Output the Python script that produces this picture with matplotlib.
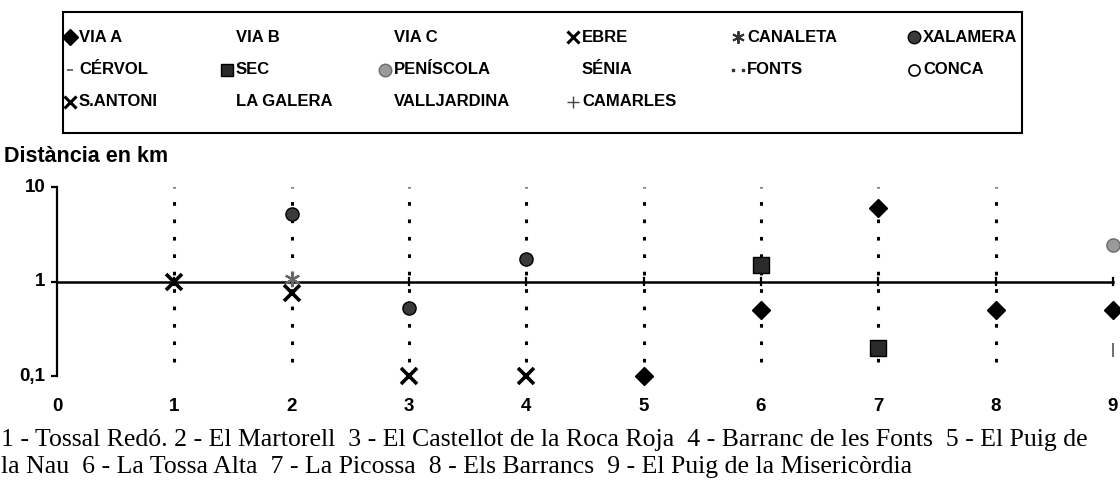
import matplotlib
matplotlib.use("Agg")
import matplotlib.pyplot as plt
from matplotlib.lines import Line2D
import matplotlib.transforms as mtransforms

# ---------------- data ----------------
sites = [0, 1, 2, 3, 4, 5, 6, 7, 8, 9]
x_tick_labels = ["0", "1", "2", "3", "4", "5", "6", "7", "8", "9"]
y_ticks = [0.1, 1, 10]
y_tick_labels = ["0,1", "1", "10"]

via_a_x = [5, 6, 7, 8, 9]
via_a_y = [0.1, 0.5, 6.0, 0.5, 0.5]
ebre_x = [1, 2]
ebre_y = [1.0, 0.76]
santoni_x = [3, 4]
santoni_y = [0.1, 0.1]
canaleta_x = [2]
canaleta_y = [1.05]
xalamera_x = [2, 3, 4]
xalamera_y = [5.2, 0.52, 1.75]
peniscola_x = [9]
peniscola_y = [2.45]
sec_x = [6, 7]
sec_y = [1.5, 0.2]
camarles_x = [9]
camarles_y = [0.19]

fonts_x = [1, 2, 3, 4, 5, 6, 7, 8]
fonts_low = [0.14, 0.14, 0.14, 0.14, 0.14, 0.14, 0.14, 0.14]
fonts_high = [10, 10, 10, 10, 10, 10, 10, 10]

legend_labels = [
    ["VIA A", "VIA B", "VIA C", "EBRE", "CANALETA", "XALAMERA"],
    ["CÉRVOL", "SEC", "PENÍSCOLA", "SÉNIA", "FONTS", "CONCA"],
    ["S.ANTONI", "LA GALERA", "VALLJARDINA", "CAMARLES"],
]

caption_lines = [
    "1 - Tossal Redó. 2 - El Martorell  3 - El Castellot de la Roca Roja  4 - Barranc de les Fonts  5 - El Puig de",
    "la Nau  6 - La Tossa Alta  7 - La Picossa  8 - Els Barrancs  9 - El Puig de la Misericòrdia",
]

y_label = "Distància en km"

# ---------------- styles ----------------
W, H = 1120, 499
fig = plt.figure(figsize=(W / 100, H / 100), dpi=100)
fig.patch.set_facecolor("white")

def fx(px):
    return px / W

def fy(py):
    return 1 - py / H

x0_px, x9_px = 57, 1113
y10_px, y01_px = 187, 376
ax = fig.add_axes([fx(x0_px), fy(y01_px), fx(x9_px) - fx(x0_px), fy(y10_px) - fy(y01_px)])
ax.set_xlim(0, 9)
ax.set_yscale("log")
ax.set_ylim(0.1, 10)
for s in ["top", "right", "bottom"]:
    ax.spines[s].set_visible(False)
ax.spines["left"].set_linewidth(1.6)
ax.spines["left"].set_color("black")
ax.set_xticks([])
ax.set_yticks([])
ax.yaxis.set_minor_locator(matplotlib.ticker.NullLocator())

bold = dict(family="Liberation Sans", weight="bold", color="black")

# y ticks (left, pointing outwards)
for v, lab in zip(y_ticks, y_tick_labels):
    ax.plot([-0.05, 0], [v, v], color="black", lw=1.6, clip_on=False, solid_capstyle="butt")
    ax.text(-0.10, v, lab, ha="right", va="center", fontsize=13.5, **bold)

# horizontal axis at y = 1 with crossing ticks
ax.plot([0, 9], [1, 1], color="black", lw=1.8, clip_on=False, zorder=2)
for xv in sites[1:]:
    ax.plot([xv, xv], [0.92, 1.09], color="black", lw=1.6, clip_on=False, zorder=2)

# x tick labels below plot
xlab_tr = mtransforms.offset_copy(ax.transData, fig=fig, x=0, y=-22, units="points")
for xv, lab in zip(sites, x_tick_labels):
    ax.text(xv, 0.1, lab, ha="center", va="center", fontsize=13.5, transform=xlab_tr, **bold)

# dotted drop lines
ax.vlines(fonts_x, fonts_low, fonts_high, colors="black", linestyles=(0, (1.2, 4.5)), lw=2.2, zorder=1)

mk = dict(clip_on=False, linestyle="none", zorder=5)
ax.plot(via_a_x, via_a_y, marker="D", ms=9, mfc="black", mec="black", **mk)
ax.plot(ebre_x, ebre_y, marker="x", ms=11, mew=2.6, color="black", **mk)
ax.plot(santoni_x, santoni_y, marker="x", ms=11, mew=2.6, color="black", **mk)
ax.plot(canaleta_x, canaleta_y, marker=(6, 2, 0), ms=11, mew=1.6, color="#666666", **mk)
ax.plot(xalamera_x, xalamera_y, marker="o", ms=9.5, mfc="#3a3a3a", mec="black", mew=1.0, **mk)
ax.plot(peniscola_x, peniscola_y, marker="o", ms=9.5, mfc="#9a9a9a", mec="#6a6a6a", mew=1.0, **mk)
ax.plot(sec_x, sec_y, marker="s", ms=11, mfc="#2a2a2a", mec="black", mew=1.0, **mk)
ax.plot(camarles_x, camarles_y, marker="|", ms=10, mew=1.2, color="#555555", **mk)

# y label
fig.text(fx(4), fy(157), y_label, ha="left", va="center", fontsize=15.5, **bold)

# ---------------- legend (manual, boxed) ----------------
box_l, box_r, box_t, box_b = 63, 1022, 12, 133
fig.add_artist(plt.Rectangle((fx(box_l), fy(box_b)), fx(box_r) - fx(box_l), fy(box_t) - fy(box_b),
                             transform=fig.transFigure, fill=False, edgecolor="black", lw=1.5))
row_y = [37, 70, 102]
col_text_x = [79, 236, 394, 582, 747, 923]
legend_markers = {
    "VIA A": dict(marker="D", ms=8, mfc="black", mec="black"),
    "EBRE": dict(marker="x", ms=9, mew=2.2, color="black"),
    "CANALETA": dict(marker=(6, 2, 0), ms=9, mew=1.4, color="#333333"),
    "XALAMERA": dict(marker="o", ms=9, mfc="#3a3a3a", mec="black"),
    "CÉRVOL": dict(marker="_", ms=5, mew=1.2, color="#555555"),
    "SEC": dict(marker="s", ms=9, mfc="#2a2a2a", mec="black"),
    "PENÍSCOLA": dict(marker="o", ms=9, mfc="#9a9a9a", mec="#6a6a6a"),
    "FONTS": dict(marker="$..$", ms=9, color="#333333"),
    "CONCA": dict(marker="o", ms=8, mfc="white", mec="black", mew=1.2),
    "S.ANTONI": dict(marker="x", ms=9, mew=2.2, color="black"),
    "CAMARLES": dict(marker="+", ms=9, mew=1.0, color="#444444"),
}
for r, row in enumerate(legend_labels):
    for c, lab in enumerate(row):
        tx = col_text_x[c]
        ty = row_y[r]
        fig.text(fx(tx), fy(ty), lab, ha="left", va="center", fontsize=12, **bold)
        if lab in legend_markers:
            fig.add_artist(Line2D([fx(tx - 9)], [fy(ty)], transform=fig.transFigure,
                                  linestyle="none", **legend_markers[lab]))

# ---------------- caption ----------------
serif = dict(family="Liberation Serif", color="black")
fig.text(fx(1), fy(440), caption_lines[0], ha="left", va="center", fontsize=18.5, **serif)
fig.text(fx(1), fy(467), caption_lines[1], ha="left", va="center", fontsize=18.5, **serif)

fig.savefig("out.png", dpi=100, facecolor="white")
